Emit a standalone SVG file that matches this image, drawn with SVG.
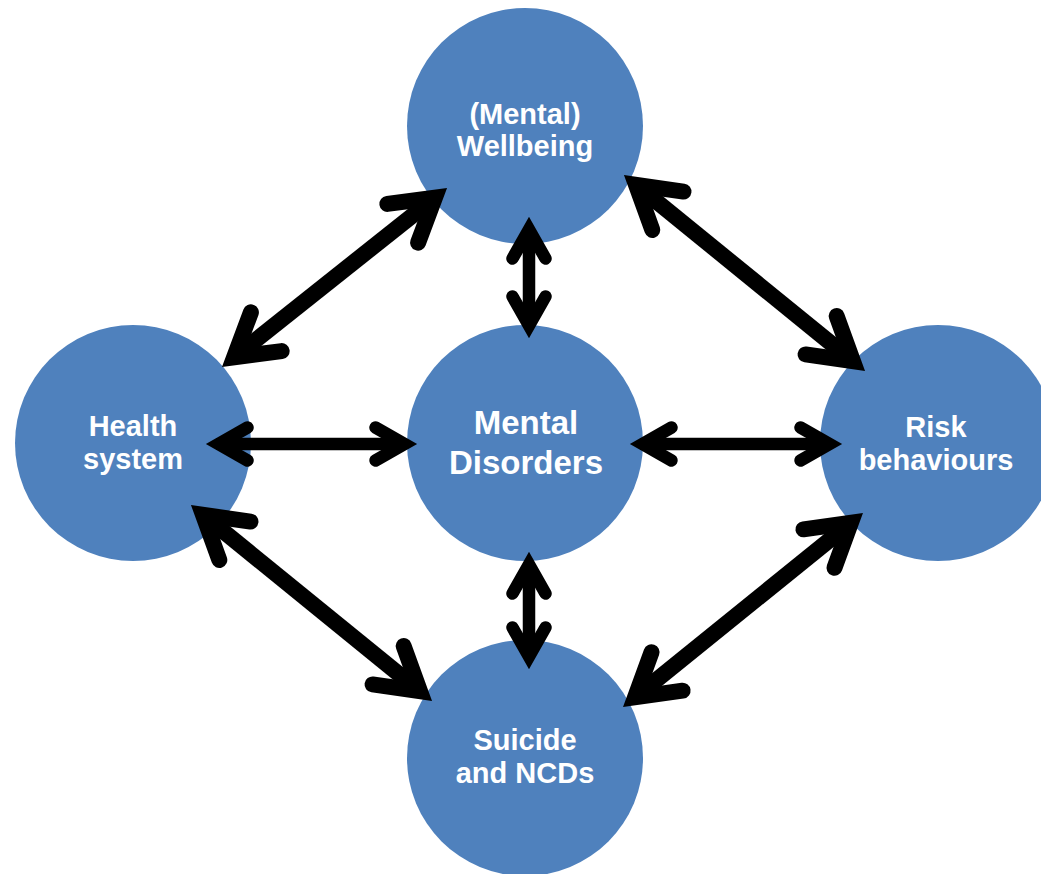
<svg xmlns="http://www.w3.org/2000/svg" width="1041" height="874" viewBox="0 0 1041 874">
  <style>
    .node { fill: #4F81BD; }
    .label { fill: #FFFFFF; font-family: "Liberation Sans", Arial, sans-serif; font-weight: bold; font-size: 29px; text-anchor: middle; }
    .big { font-size: 33px; }
    .shaft-s { stroke: #000; stroke-width: 12.5; fill: none; marker-start: url(#headS); marker-end: url(#headS); }
    .shaft-l { stroke: #000; stroke-width: 16; fill: none; marker-start: url(#headL); marker-end: url(#headL); }
  </style>
  <defs>
    <marker id="headS" markerUnits="userSpaceOnUse" orient="auto-start-reverse" refX="0" refY="0" markerWidth="10" markerHeight="10" overflow="visible">
      <path d="M -29,-16.5 L 0,0 L -29,16.5" fill="none" stroke="#000" stroke-width="12.5" stroke-linejoin="miter" stroke-linecap="round"/>
    </marker>
    <marker id="headL" markerUnits="userSpaceOnUse" orient="auto-start-reverse" refX="0" refY="0" markerWidth="10" markerHeight="10" overflow="visible">
      <path d="M -41.1,-24.7 L 0,0 L -41.1,24.7" fill="none" stroke="#000" stroke-width="16" stroke-linejoin="miter" stroke-linecap="round"/>
    </marker>
  </defs>

  <g id="node-wellbeing">
    <circle class="node" cx="525" cy="126" r="118"/>
    <text class="label" x="525" y="124">(Mental)</text>
    <text class="label" x="525" y="156">Wellbeing</text>
  </g>
  <g id="node-health">
    <circle class="node" cx="133" cy="443" r="118"/>
    <text class="label" x="133" y="436">Health</text>
    <text class="label" x="133" y="469">system</text>
  </g>
  <g id="node-mental">
    <circle class="node" cx="525" cy="443" r="118"/>
    <text class="label big" x="526" y="434">Mental</text>
    <text class="label big" x="526" y="474">Disorders</text>
  </g>
  <g id="node-risk">
    <circle class="node" cx="938" cy="443" r="118"/>
    <text class="label" x="936" y="437">Risk</text>
    <text class="label" x="936" y="470">behaviours</text>
  </g>
  <g id="node-suicide">
    <circle class="node" cx="525" cy="758" r="118"/>
    <text class="label" x="525" y="750">Suicide</text>
    <text class="label" x="525" y="783">and NCDs</text>
  </g>

  <g id="connectors">
    <line class="shaft-s" x1="218.5" y1="444" x2="404.5" y2="444"/>
    <line class="shaft-s" x1="642.5" y1="444" x2="829.5" y2="444"/>
    <line class="shaft-s" x1="529" y1="229.5" x2="529" y2="325.5"/>
    <line class="shaft-s" x1="529" y1="564.5" x2="529" y2="656.5"/>
    <line class="shaft-l" x1="234.1" y1="357.3" x2="434.9" y2="197.7"/>
    <line class="shaft-l" x1="636.0" y1="184.8" x2="853.0" y2="361.2"/>
    <line class="shaft-l" x1="203.0" y1="514.8" x2="420.0" y2="691.2"/>
    <line class="shaft-l" x1="635.1" y1="697.3" x2="850.9" y2="522.7"/>
  </g>
</svg>
